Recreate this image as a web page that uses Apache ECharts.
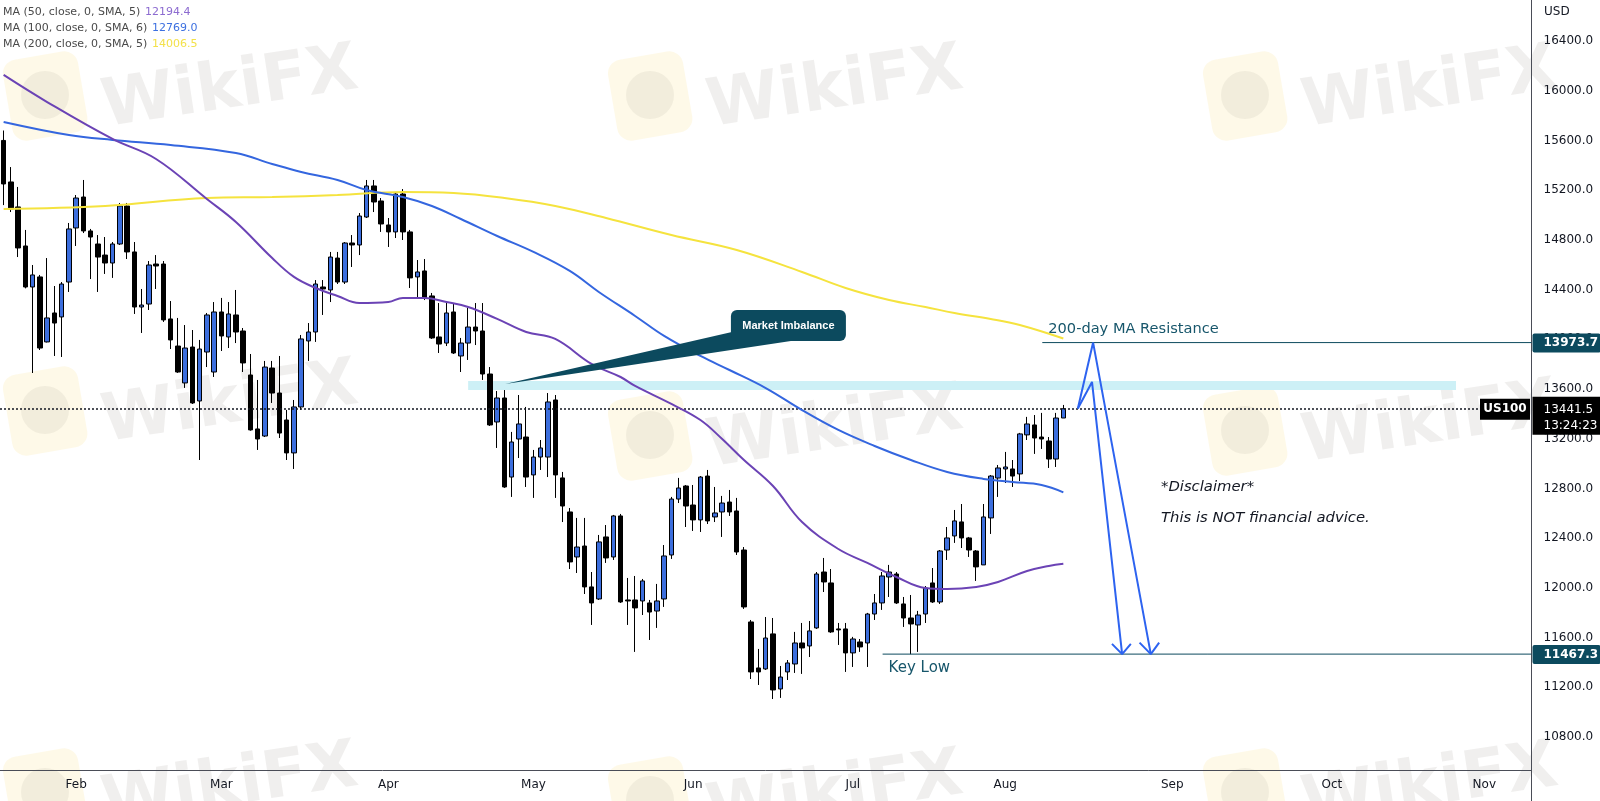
<!DOCTYPE html>
<html><head><meta charset="utf-8">
<script src="https://cdn.jsdelivr.net/npm/echarts@6/dist/echarts.min.js"></script>
<style>html,body{margin:0;padding:0;background:#fff;}#c{width:1600px;height:801px;}</style>
</head><body><div id="c"></div>
<script>
// ---------- categories (trading days, weekdays, Good Friday closed) ----------
const firstDay = [2022, 0, 18];
const closedDays = ['2022-04-15'];
const barCount = 211;
const monthNames = ['Jan','Feb','Mar','Apr','May','Jun','Jul','Aug','Sep','Oct','Nov','Dec'];
const tradingDays = [];
(function () {
  let d = new Date(Date.UTC(firstDay[0], firstDay[1], firstDay[2]));
  while (tradingDays.length < barCount) {
    const wd = d.getUTCDay();
    const s = d.toISOString().slice(0, 10);
    if (wd !== 0 && wd !== 6 && closedDays.indexOf(s) < 0) tradingDays.push(s);
    d = new Date(d.getTime() + 86400000);
  }
})();

// ---------- daily OHLC (US100) ----------
const opens = [15600,15266,15065,14751,14421,14502,13979,14212,14180,14461,14896,15145,14872,14767,14678,14614,14767,15073,14703,14260,14284,14606,14606,14164,13946,13649,13938,13504,13898,13737,14220,14019,14196,14067,13713,13279,13222,13769,13568,13351,13086,13456,13987,14059,14421,14397,14654,14461,14775,14759,14984,15234,15113,14920,14864,15169,14864,14502,14550,14349,14019,13970,14220,13866,13970,14099,14067,13721,13335,13528,12892,13198,13214,12909,13053,13053,13512,12885,12611,12249,12337,12008,11911,12410,12249,12579,11903,11903,11895,11879,11814,11911,12265,12715,12820,12667,12547,12900,12571,12611,12691,12619,12305,11726,11356,11348,11630,11187,11324,11388,11557,11533,11678,12128,12040,11670,11670,11477,11565,11557,11790,11879,12088,12112,11871,11758,11702,11790,12040,11887,12305,12418,12531,12402,12297,12185,12563,12884,12957,12957,12917,13231,13311,13214,13182,13037,13367];
const highs = [15680,15386,15226,14880,14598,14518,14654,14429,14461,14936,15161,15282,14888,14839,14823,14783,15097,15097,14783,14405,14630,14678,14630,14308,14172,14115,14075,13995,14212,14300,14333,14300,14397,14091,13882,13673,13826,13826,13866,13432,13512,14035,14131,14477,14477,14703,14703,14783,14839,15016,15282,15282,15137,14976,15185,15209,14880,14638,14646,14373,14292,14292,14292,14011,14252,14292,14292,13777,13584,13592,13255,13552,13456,13110,13190,13568,13552,12933,12643,12563,12563,12128,12426,12506,12587,12595,12080,12096,12072,11903,12032,12345,12732,12885,12828,12828,12900,12949,12812,12740,12788,12724,12329,11742,11509,11766,11758,11372,11420,11646,11718,11734,12128,12241,12152,11718,11718,11606,11589,11799,11951,12128,12185,12128,11927,11943,11815,12015,12160,12305,12490,12627,12675,12410,12305,12675,12908,12989,13094,13029,13247,13376,13391,13408,13214,13408,13472];
const lows = [15080,15024,14662,14410,13729,13914,13975,13866,13858,14381,14751,14855,14485,14381,14526,14494,14759,14646,14204,14051,14236,14405,14140,13922,13730,13609,13480,13029,13777,13697,13906,13930,13970,13737,13265,13110,13214,13488,13206,13029,12957,13432,13826,13979,14196,14300,14445,14445,14582,14678,14976,15024,14864,14743,14815,14799,14413,14333,14316,14003,13890,13946,13882,13737,13834,13954,13673,13303,13126,12805,12732,13045,12812,12724,12949,12892,12724,12530,12152,12120,11951,11702,11903,12201,12225,11879,11702,11485,11782,11581,11678,11847,12233,12683,12490,12458,12450,12514,12530,12410,12579,12265,11831,11267,11219,11340,11106,11115,11259,11316,11308,11444,11670,11967,11638,11541,11324,11364,11485,11364,11742,11823,11927,11871,11686,11467,11485,11718,11879,11871,12225,12362,12321,12249,12056,12185,12434,12732,12844,12812,12860,13190,13078,13118,12965,12973,13367];
const closes = [15250,15049,14735,14421,14518,13930,14172,14131,14445,14888,15137,14872,14823,14662,14614,14767,15073,14703,14260,14276,14598,14590,14156,13995,13737,13930,13488,13922,14196,14220,14027,14204,14059,13810,13271,13198,13777,13568,13246,13086,13456,14003,14059,14445,14405,14662,14461,14775,14759,14992,15234,15105,14928,14864,15169,14864,14494,14542,14333,14011,13962,14212,13890,13970,14099,14067,13721,13311,13528,12812,13174,13319,12892,13053,13126,13496,12909,12659,12209,12329,12008,11879,12370,12241,12579,11887,11895,11839,12056,11806,11895,12257,12715,12804,12659,12547,12892,12539,12603,12683,12611,12289,11847,11324,11324,11597,11179,11283,11396,11557,11517,11654,12112,12048,11646,11662,11477,11589,11525,11790,11879,12096,12128,11879,11758,11710,11782,11999,11887,12297,12402,12539,12402,12305,12169,12571,12900,12965,12973,12900,13239,13319,13206,13198,13037,13367,13441.5];

// ---------- moving averages (bar index, value) ----------
const ma50Idx = [0,6,15,21,28,32,37,40,43,46,49,53,55,58,61,64,68,72,76,81,85,87,92,96,99,102,106,110,115,119,123,127,130,134,137,141,144,146];
const ma50Val = [16127,15909,15612,15451,15129,14944,14654,14502,14413,14349,14292,14300,14333,14333,14300,14260,14164,14059,14003,13802,13697,13625,13480,13351,13198,13029,12820,12530,12313,12201,12088,11999,11991,12008,12048,12136,12177,12194.4];
const ma100Idx = [0,9,15,23,32,37,41,46,50,55,59,63,68,73,78,82,87,91,96,100,105,110,115,120,125,130,135,139,143,146];
const ma100Val = [15749,15644,15604,15563,15499,15411,15346,15282,15201,15145,15073,14968,14831,14703,14550,14381,14188,14027,13866,13753,13608,13431,13271,13142,13029,12933,12877,12852,12828,12769.0];
const ma200Idx = [0,14,28,37,46,55,62,69,76,83,92,101,110,116,122,127,131,136,140,146];
const ma200Val = [15049,15073,15137,15145,15161,15185,15177,15137,15073,14976,14839,14719,14542,14413,14316,14260,14212,14164,14115,14006.5];
const maLegend = [
  {label: 'MA (50, close, 0, SMA, 5)', value: '12194.4', color: '#8c6bd0'},
  {label: 'MA (100, close, 0, SMA, 6)', value: '12769.0', color: '#3d70e0'},
  {label: 'MA (200, close, 0, SMA, 5)', value: '14006.5', color: '#f3e14a'}
];

// ---------- drawing annotations (bar index, price) ----------
const lastPrice = 13441.5;
const resistanceLevel = 13973.7;
const keyLowLevel = 11467.3;
const zoneTop = 13665, zoneBottom = 13593, zoneFrom = 64.0, zoneTo = 200.1;
const resistanceFrom = 143.1, keyLowFrom = 121.1;
const arrowOuter = [[148.0, 13444], [150.1, 13973.7], [158.05, 11467.3]];
const arrowInner = [[148.0, 13444], [149.95, 13657], [154.1, 11467.3]];
const headOuter = [[156.5, 11560], [158.05, 11467.3], [159.2, 11560]];
const headInner = [[152.7, 11550], [154.1, 11467.3], [155.3, 11550]];
const calloutTip = [69.1, 13641];
const calloutBox = [100.2, 14236];
const yTickLabels = {unit: 'USD'};

const pairs = (a, b) => a.map((v, i) => [v, b[i]]);
const candleData = opens.map((o, i) => [o, closes[i], lows[i], highs[i]]);
const TEAL = '#0c4a5e';
const FONT = 'DejaVu Sans';

const chart = echarts.init(document.getElementById('c'));
const lineSeries = (name, data, color, width, extra) => Object.assign({
  name, type: 'line', xAxisIndex: 1, yAxisIndex: 0, data, showSymbol: false, symbol: 'none',
  silent: true, lineStyle: {color, width}, z: 5
}, extra || {});

chart.setOption({
  animation: false,
  backgroundColor: '#ffffff',
  grid: {left: -3, right: 68.5, top: 0, bottom: 31, containLabel: false},
  xAxis: [
    {type: 'category', data: tradingDays, boundaryGap: true,
     axisLine: {show: true, onZero: false, lineStyle: {color: '#4a4d57', width: 1}},
     axisTick: {show: false}, splitLine: {show: false},
     axisLabel: {
       interval: (i, v) => i > 0 && v.slice(5, 7) !== tradingDays[i - 1].slice(5, 7),
       formatter: v => monthNames[+v.slice(5, 7) - 1],
       color: '#131722', fontSize: 12, fontFamily: FONT, margin: 9
     }},
    {type: 'value', min: -0.5, max: barCount - 0.5, show: false}
  ],
  yAxis: {
    type: 'value', position: 'right', min: 10535, max: 16730, scale: true,
    splitNumber: 15, minInterval: 400, maxInterval: 400,
    splitLine: {show: false},
    axisLine: {show: true, onZero: false, lineStyle: {color: '#4a4d57', width: 1}},
    axisTick: {show: false},
    axisLabel: {margin: 12, color: '#131722', fontSize: 12, fontFamily: FONT,
      showMinLabel: false, showMaxLabel: false, formatter: v => v.toFixed(1)}
  },
  series: [
    {name: 'US100', type: 'candlestick', xAxisIndex: 0, yAxisIndex: 0, data: candleData,
     barWidth: 5, silent: true, z: 3,
     itemStyle: {color: '#3c6edd', color0: '#000000', borderColor: '#000000', borderColor0: '#000000', borderWidth: 1},
     markLine: {symbol: 'none', silent: true, label: {show: false},
       lineStyle: {color: '#131722', type: [2, 2], width: 1.6},
       data: [{yAxis: lastPrice}]}},
    lineSeries('zone', [], '#000', 0, {markArea: {silent: true, itemStyle: {color: '#cdf0f6'},
      data: [[{coord: [zoneFrom, zoneTop]}, {coord: [zoneTo, zoneBottom]}]]}, z: 1}),
    lineSeries('MA200', pairs(ma200Idx, ma200Val), '#f5e33e', 2, {smooth: 0.4}),
    lineSeries('MA100', pairs(ma100Idx, ma100Val), '#3466df', 2, {smooth: 0.4}),
    lineSeries('MA50', pairs(ma50Idx, ma50Val), '#6b43b5', 2, {smooth: 0.4}),
    lineSeries('resistance', [[resistanceFrom, resistanceLevel], [barCount - 0.5, resistanceLevel]], TEAL, 1),
    lineSeries('keylow', [[keyLowFrom, keyLowLevel], [barCount - 0.5, keyLowLevel]], TEAL, 1),
    lineSeries('arrowOuter', arrowOuter, '#2d63f0', 2, {z: 6}),
    lineSeries('arrowInner', arrowInner, '#2d63f0', 2, {z: 6}),
    lineSeries('headOuter', headOuter, '#2d63f0', 2, {z: 6}),
    lineSeries('headInner', headInner, '#2d63f0', 2, {z: 6})
  ]
});

// ---------- overlay elements positioned from data coordinates ----------
const px = (i, v) => chart.convertToPixel({xAxisIndex: 1, yAxisIndex: 0}, [i, v]);
const py = v => chart.convertToPixel({yAxisIndex: 0}, v);
const g = [];

// watermark
const wmRows = [[95, 95, 95], [410, 435, 430], [792, 800, 792]];
const wmCols = [45, 650, 1245];
wmRows.forEach(row => row.forEach((cy, k) => {
  const cx = wmCols[k];
  g.push({type: 'rect', z: -10, shape: {x: cx - 38, y: cy - 40, width: 76, height: 82, r: 14},
    rotation: 0.17, originX: cx, originY: cy, style: {fill: 'rgba(250,222,130,0.18)'}});
  g.push({type: 'circle', z: -10, shape: {cx: cx, cy: cy, r: 24}, style: {fill: 'rgba(90,80,70,0.07)'}});
  g.push({type: 'text', z: -10, x: cx + 185, y: cy - 5, rotation: 0.15,
    style: {text: 'WikiFX', font: 'bold 66px "DejaVu Sans"', fill: 'rgba(90,75,65,0.09)', align: 'center', verticalAlign: 'middle'}});
}));

// legend
maLegend.forEach((m, k) => {
  const y = 12 + k * 16.3;
  g.push({type: 'text', x: 3, y: y, style: {text: m.label, fill: '#4a4a4a', font: '11px "DejaVu Sans"', verticalAlign: 'middle'}});
  g.push({type: 'text', x: k === 0 ? 145 : 152, y: y, style: {text: m.value, fill: m.color, font: '11px "DejaVu Sans"', verticalAlign: 'middle'}});
});
g.push({type: 'text', x: 1544, y: 12, style: {text: yTickLabels.unit, fill: '#131722', font: '12px "DejaVu Sans"', verticalAlign: 'middle'}});

// callout
const tip = px(calloutTip[0], calloutTip[1]);
const box = px(calloutBox[0], calloutBox[1]);
g.push({type: 'polygon', z: 20, shape: {points: [tip, [box[0] + 1, box[1] + 22], [box[0] + 60, box[1] + 31]]}, style: {fill: TEAL}});
g.push({type: 'rect', z: 20, shape: {x: box[0], y: box[1], width: 115, height: 31, r: 6}, style: {fill: TEAL}});
g.push({type: 'text', z: 21, x: box[0] + 57.5, y: box[1] + 15.5, style: {text: 'Market Imbalance', fill: '#ffffff', font: 'bold 11px "Liberation Sans"', align: 'center', verticalAlign: 'middle'}});

// labels
const rs = px(resistanceFrom, resistanceLevel);
g.push({type: 'text', z: 20, x: rs[0] + 6, y: rs[1] - 13, style: {text: '200-day MA Resistance', fill: '#17566b', font: '14.6px "DejaVu Sans"', verticalAlign: 'middle'}});
const kl = px(keyLowFrom, keyLowLevel);
g.push({type: 'text', z: 20, x: kl[0] + 6, y: kl[1] + 14, style: {text: 'Key Low', fill: '#17566b', font: '15px "DejaVu Sans"', verticalAlign: 'middle'}});
g.push({type: 'text', z: 20, x: 1161, y: 487, style: {text: '*Disclaimer*', fill: '#131722', font: 'italic 14.8px "DejaVu Sans"', verticalAlign: 'middle'}});
g.push({type: 'text', z: 20, x: 1161, y: 518, style: {text: 'This is NOT financial advice.', fill: '#131722', font: 'italic 14.8px "DejaVu Sans"', verticalAlign: 'middle'}});

// price scale tags
const axisX = 1531.5;
[[resistanceLevel, TEAL], [keyLowLevel, TEAL]].forEach(([v, c]) => {
  const y = py(v);
  g.push({type: 'rect', z: 30, shape: {x: axisX + 1, y: y - 9, width: 68, height: 19, r: 2}, style: {fill: c}});
  g.push({type: 'text', z: 31, x: axisX + 12, y: y + 0.5, style: {text: v.toFixed(1), fill: '#fff', font: 'bold 12px "DejaVu Sans"', verticalAlign: 'middle'}});
});
const yl = py(lastPrice);
g.push({type: 'rect', z: 30, shape: {x: axisX + 1, y: yl - 12, width: 68, height: 38}, style: {fill: '#000'}});
g.push({type: 'text', z: 31, x: axisX + 12, y: yl + 1, style: {text: lastPrice.toFixed(1), fill: '#fff', font: '12px "DejaVu Sans"', verticalAlign: 'middle'}});
g.push({type: 'text', z: 31, x: axisX + 12, y: yl + 17, style: {text: '13:24:23', fill: '#fff', font: '12px "DejaVu Sans"', verticalAlign: 'middle'}});
g.push({type: 'rect', z: 30, shape: {x: 1480, y: yl - 10, width: 50, height: 21}, style: {fill: '#000'}});
g.push({type: 'text', z: 31, x: 1505, y: yl + 0.5, style: {text: 'US100', fill: '#fff', font: 'bold 12px "DejaVu Sans"', align: 'center', verticalAlign: 'middle'}});
g.push({type: 'line', z: 30, shape: {x1: axisX, y1: 770, x2: axisX, y2: 801}, style: {stroke: '#4a4d57', lineWidth: 1}});

chart.setOption({graphic: {elements: g}});
</script></body></html>
